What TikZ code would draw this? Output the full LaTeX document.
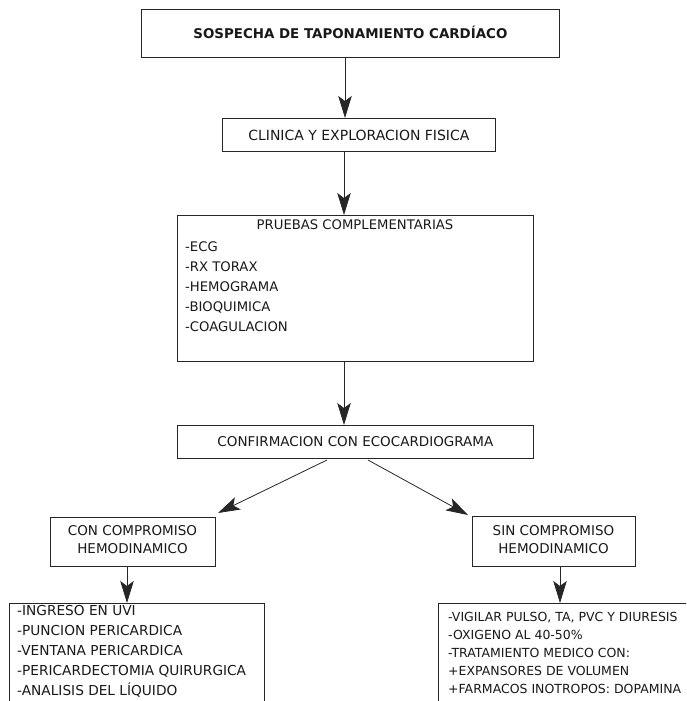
\documentclass[tikz,border=0pt]{standalone}
\usepackage{fontspec}
\setmainfont{DejaVu Sans}
\usetikzlibrary{arrows.meta}
\begin{document}
\begin{tikzpicture}[x=1pt,y=-1pt,
  box/.style={draw=black!85, line width=0.8pt, inner sep=0pt, anchor=north west},
  arr/.style={draw=black!85, line width=0.8pt, -{Stealth[length=22pt,width=13.5pt,inset=5pt]}},
  fs/.style={font=\fontsize{#1}{16}\selectfont, text=black!90, inner sep=0pt, text height=0.73*#1 pt, text depth=0pt},
  ln/.style={fs=#1, anchor=west},
]
\clip (0,0) rectangle (686,701);
\fill[white] (0,0) rectangle (686,701);

% boxes
\node[box, minimum width=418pt, minimum height=48pt] (top) at (141,9) {};
\node[box, minimum width=273pt, minimum height=33pt] (clin) at (222,118) {};
\node[box, minimum width=356pt, minimum height=146pt] (pru) at (177,215) {};
\node[box, minimum width=356pt, minimum height=33pt] (conf) at (177,425) {};
\node[box, minimum width=165pt, minimum height=49pt] (con) at (50,517) {};
\node[box, minimum width=163pt, minimum height=50pt] (sin) at (472,516) {};
\node[box, minimum width=255pt, minimum height=117pt] (bl) at (9,603) {};
\node[box, minimum width=262pt, minimum height=117pt] (br) at (438,603) {};

% texts
\node[fs=13.4, font=\fontsize{13.4}{16}\selectfont\bfseries] (t1) at (top.center) {SOSPECHA DE TAPONAMIENTO CARDÍACO};
\node[fs=14] (t2) at (clin.center) {CLINICA Y EXPLORACION FISICA};
\node[fs=13.2] (t3) at (355,225) {PRUEBAS COMPLEMENTARIAS};
\node[ln=13.2] (p1) at (185,247) {-ECG};
\node[ln=13.2] (p2) at (185,267) {-RX TORAX};
\node[ln=13.2] (p3) at (185,287) {-HEMOGRAMA};
\node[ln=13.2] (p4) at (185,307) {-BIOQUIMICA};
\node[ln=13.2] (p5) at (185,327) {-COAGULACION};
\node[fs=13.5] (t4) at (conf.center) {CONFIRMACION CON ECOCARDIOGRAMA};
\node[fs=13.5] (c1) at (132.5,531) {CON COMPROMISO};
\node[fs=13.5] (c2) at (132.5,549) {HEMODINAMICO};
\node[fs=13.5] (s1) at (553.5,531) {SIN COMPROMISO};
\node[fs=13.5] (s2) at (553.5,549) {HEMODINAMICO};
\node[ln=13.7] (l1) at (17,610) {-INGRESO EN UVI};
\node[ln=13.7] (l2) at (17,630) {-PUNCION PERICARDICA};
\node[ln=13.7] (l3) at (17,650) {-VENTANA PERICARDICA};
\node[ln=13.7] (l4) at (17,670) {-PERICARDECTOMIA QUIRURGICA};
\node[ln=13.7] (l5) at (17,690) {-ANALISIS DEL LÍQUIDO};
\node[ln=12.5] (r1) at (448,617) {-VIGILAR PULSO, TA, PVC Y DIURESIS};
\node[ln=12.5] (r2) at (448,635) {-OXIGENO AL 40-50\%};
\node[ln=12.5] (r3) at (448,653) {-TRATAMIENTO MEDICO CON:};
\node[ln=12.5] (r4) at (448,671) {+EXPANSORES DE VOLUMEN};
\node[ln=12.5] (r5) at (448,689) {+FARMACOS INOTROPOS: DOPAMINA};

% connector guides
\coordinate (x1) at (345,0);
\coordinate (x2) at (344,0);
\coordinate (x3) at (127,0);
\coordinate (x4) at (560,0);
\coordinate (d1s) at (327,460);
\coordinate (d1e) at (218,513);
\coordinate (d2s) at (368,460);
\coordinate (d2e) at (468,515);

% connectors
\draw[arr] (top.south -| x1) -- (clin.north -| x1);
\draw[arr] (clin.south -| x2) -- (pru.north -| x2);
\draw[arr] (pru.south -| x2) -- (conf.north -| x2);
\draw[arr] (d1s) -- (d1e);
\draw[arr] (d2s) -- (d2e);
\draw[arr] (con.south -| x3) -- (bl.north -| x3);
\draw[arr] (sin.south -| x4) -- (br.north -| x4);
\end{tikzpicture}
\end{document}
